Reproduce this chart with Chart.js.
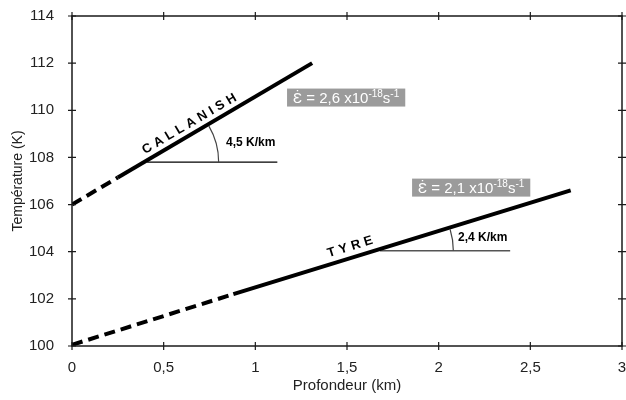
<!DOCTYPE html>
<html>
<head>
<meta charset="utf-8">
<script src="https://cdn.jsdelivr.net/npm/chart.js@4.4.0/dist/chart.umd.min.js"></script>
<style>
  html, body { margin: 0; padding: 0; background: #fff; }
</style>
</head>
<body>
<canvas id="chart" width="626" height="400"></canvas>
<script>
// Axis ticks
const xTicks = [0, 0.5, 1, 1.5, 2, 2.5, 3];
const xTickLabels = ['0', '0,5', '1', '1,5', '2', '2,5', '3'];
const yTicks = [100, 102, 104, 106, 108, 110, 112, 114];
const yTickLabels = ['100', '102', '104', '106', '108', '110', '112', '114'];

// Geotherms: [profondeur (km), température (K)]
const callanishDashed = [[0, 106.0], [0.25, 107.15]];
const callanishSolid = [[0.25, 107.15], [1.31, 112.0]];
const tyreDashed = [[0, 100.05], [0.88, 102.2]];
const tyreSolid = [[0.88, 102.2], [2.72, 106.6]];

// Horizontal reference lines for the gradient angle
const callanishRef = [[0.41, 107.8], [1.12, 107.8]];
const tyreRef = [[1.68, 104.04], [2.39, 104.04]];

// Annotation texts
const wellNames = ['CALLANISH', 'TYRE'];
const gradientLabels = ['4,5 K/km', '2,4 K/km'];
const strainValues = ['2,6', '2,1'];

const FONT = "'Liberation Sans', Arial, sans-serif";
const toXY = pts => pts.map(p => ({ x: p[0], y: p[1] }));

function lineSet(pts, width, color, dash) {
    return {
        data: toXY(pts),
        borderColor: color,
        borderWidth: width,
        borderDash: dash || [],
        borderCapStyle: 'butt',
        pointRadius: 0,
        fill: false,
        tension: 0
    };
}

// Where the texts sit, in data units
const wells = [
    { solid: callanishSolid, ref: callanishRef, arcR: 0.39, name: wellNames[0], nameAt: [0.64, 109.42],
      grad: gradientLabels[0], gradAt: [0.84, 108.61], strain: strainValues[0], boxAt: [1.173, 110.54] },
    { solid: tyreSolid, ref: tyreRef, arcR: 0.40, name: wellNames[1], nameAt: [1.517, 104.2],
      grad: gradientLabels[1], gradAt: [2.106, 104.58], strain: strainValues[1], boxAt: [1.855, 106.72] }
];

function drawSpaced(ctx, text, spacing) {
    const widths = [...text].map(c => ctx.measureText(c).width);
    const total = widths.reduce((a, b) => a + b, 0) + spacing * (text.length - 1);
    let xPos = -total / 2;
    [...text].forEach((c, i) => {
        ctx.fillText(c, xPos, 0);
        xPos += widths[i] + spacing;
    });
}

const annotate = {
    id: 'annotate',
    afterDraw(chart) {
        const { ctx, chartArea: a, scales: { x, y } } = chart;
        const px = v => x.getPixelForValue(v);
        const py = v => y.getPixelForValue(v);
        ctx.save();

        // frame and crossing ticks
        ctx.strokeStyle = '#1a1a1a';
        ctx.lineWidth = 1.5;
        ctx.strokeRect(a.left, a.top, a.right - a.left, a.bottom - a.top);
        ctx.lineWidth = 1.2;
        ctx.beginPath();
        xTicks.forEach(v => {
            const X = px(v);
            ctx.moveTo(X, a.bottom - 4); ctx.lineTo(X, a.bottom + 4);
            ctx.moveTo(X, a.top - 4); ctx.lineTo(X, a.top + 4);
        });
        yTicks.forEach(v => {
            const Y = py(v);
            ctx.moveTo(a.left - 4, Y); ctx.lineTo(a.left + 4, Y);
            ctx.moveTo(a.right - 4, Y); ctx.lineTo(a.right + 4, Y);
        });
        ctx.stroke();

        wells.forEach(w => {
            const p0 = w.solid[0], p1 = w.solid[1];
            const ang = Math.atan2(py(p1[1]) - py(p0[1]), px(p1[0]) - px(p0[0]));

            // angle arc
            const cx = px(w.ref[0][0]), cy = py(w.ref[0][1]);
            const r = px(w.ref[0][0] + w.arcR) - cx;
            ctx.strokeStyle = '#444';
            ctx.lineWidth = 1.2;
            ctx.beginPath();
            ctx.arc(cx, cy, r, ang, 0);
            ctx.stroke();

            // well name along the line
            ctx.save();
            ctx.translate(px(w.nameAt[0]), py(w.nameAt[1]));
            ctx.rotate(ang);
            ctx.fillStyle = '#000';
            ctx.font = 'bold 13px ' + FONT;
            ctx.textBaseline = 'middle';
            ctx.textAlign = 'left';
            drawSpaced(ctx, w.name, 4);
            ctx.restore();

            // gradient label
            ctx.fillStyle = '#000';
            ctx.font = 'bold 12px ' + FONT;
            ctx.textBaseline = 'middle';
            ctx.textAlign = 'left';
            ctx.fillText(w.grad, px(w.gradAt[0]), py(w.gradAt[1]));

            // strain rate box
            const bx = px(w.boxAt[0]), by = py(w.boxAt[1]);
            const main = 'Ɛ̇ = ' + w.strain + ' x10';
            ctx.font = '15px ' + FONT;
            const wMain = ctx.measureText(main).width;
            const wS = ctx.measureText('s').width;
            ctx.font = '10px ' + FONT;
            const wSup1 = ctx.measureText('-18').width;
            const wSup2 = ctx.measureText('-1').width;
            const pad = 6;
            const boxW = wMain + wSup1 + wS + wSup2 + pad * 2;
            ctx.fillStyle = '#9b9b9b';
            ctx.fillRect(bx, by - 9, boxW, 18);
            ctx.fillStyle = '#fff';
            ctx.textBaseline = 'alphabetic';
            let tx = bx + pad;
            const base = by + 5;
            ctx.font = '15px ' + FONT;
            ctx.fillText(main, tx, base); tx += wMain;
            ctx.font = '10px ' + FONT;
            ctx.fillText('-18', tx, base - 6); tx += wSup1;
            ctx.font = '15px ' + FONT;
            ctx.fillText('s', tx, base); tx += wS;
            ctx.font = '10px ' + FONT;
            ctx.fillText('-1', tx, base - 6);
        });
        ctx.restore();
    }
};

new Chart(document.getElementById('chart').getContext('2d'), {
    type: 'line',
    data: {
        datasets: [
            lineSet(callanishDashed, 4, '#000', [11, 6]),
            lineSet(callanishSolid, 4, '#000'),
            lineSet(tyreDashed, 4, '#000', [11, 6]),
            lineSet(tyreSolid, 4, '#000'),
            lineSet(callanishRef, 1.2, '#000'),
            lineSet(tyreRef, 1.5, '#555')
        ]
    },
    options: {
        responsive: false,
        animation: false,
        layout: { padding: { top: 16, right: 4, left: 0, bottom: 0 } },
        plugins: { legend: { display: false }, tooltip: { enabled: false } },
        scales: {
            x: {
                type: 'linear',
                min: 0,
                max: 3,
                afterBuildTicks: s => { s.ticks = xTicks.map(v => ({ value: v })); },
                afterFit: s => { s.height = 54; s.paddingLeft = 0; s.paddingRight = 0; },
                grid: { display: false },
                border: { display: false },
                ticks: {
                    padding: 5,
                    color: '#222',
                    font: { family: FONT, size: 15 },
                    callback: (v, i) => xTickLabels[i]
                },
                title: {
                    display: true,
                    text: 'Profondeur (km)',
                    color: '#222',
                    font: { family: FONT, size: 15 },
                    padding: { top: 0, bottom: 5 }
                }
            },
            y: {
                min: 100,
                max: 114,
                afterBuildTicks: s => { s.ticks = yTicks.map(v => ({ value: v })); },
                afterFit: s => { s.width = 72; s.paddingTop = 0; s.paddingBottom = 0; },
                grid: { display: false },
                border: { display: false },
                ticks: {
                    padding: 10,
                    color: '#222',
                    font: { family: FONT, size: 15 },
                    callback: (v, i) => yTickLabels[i]
                },
                title: {
                    display: true,
                    text: 'Température (K)',
                    color: '#222',
                    font: { family: FONT, size: 14 },
                    padding: { top: 10, bottom: 0 }
                }
            }
        }
    },
    plugins: [annotate]
});
</script>
</body>
</html>
